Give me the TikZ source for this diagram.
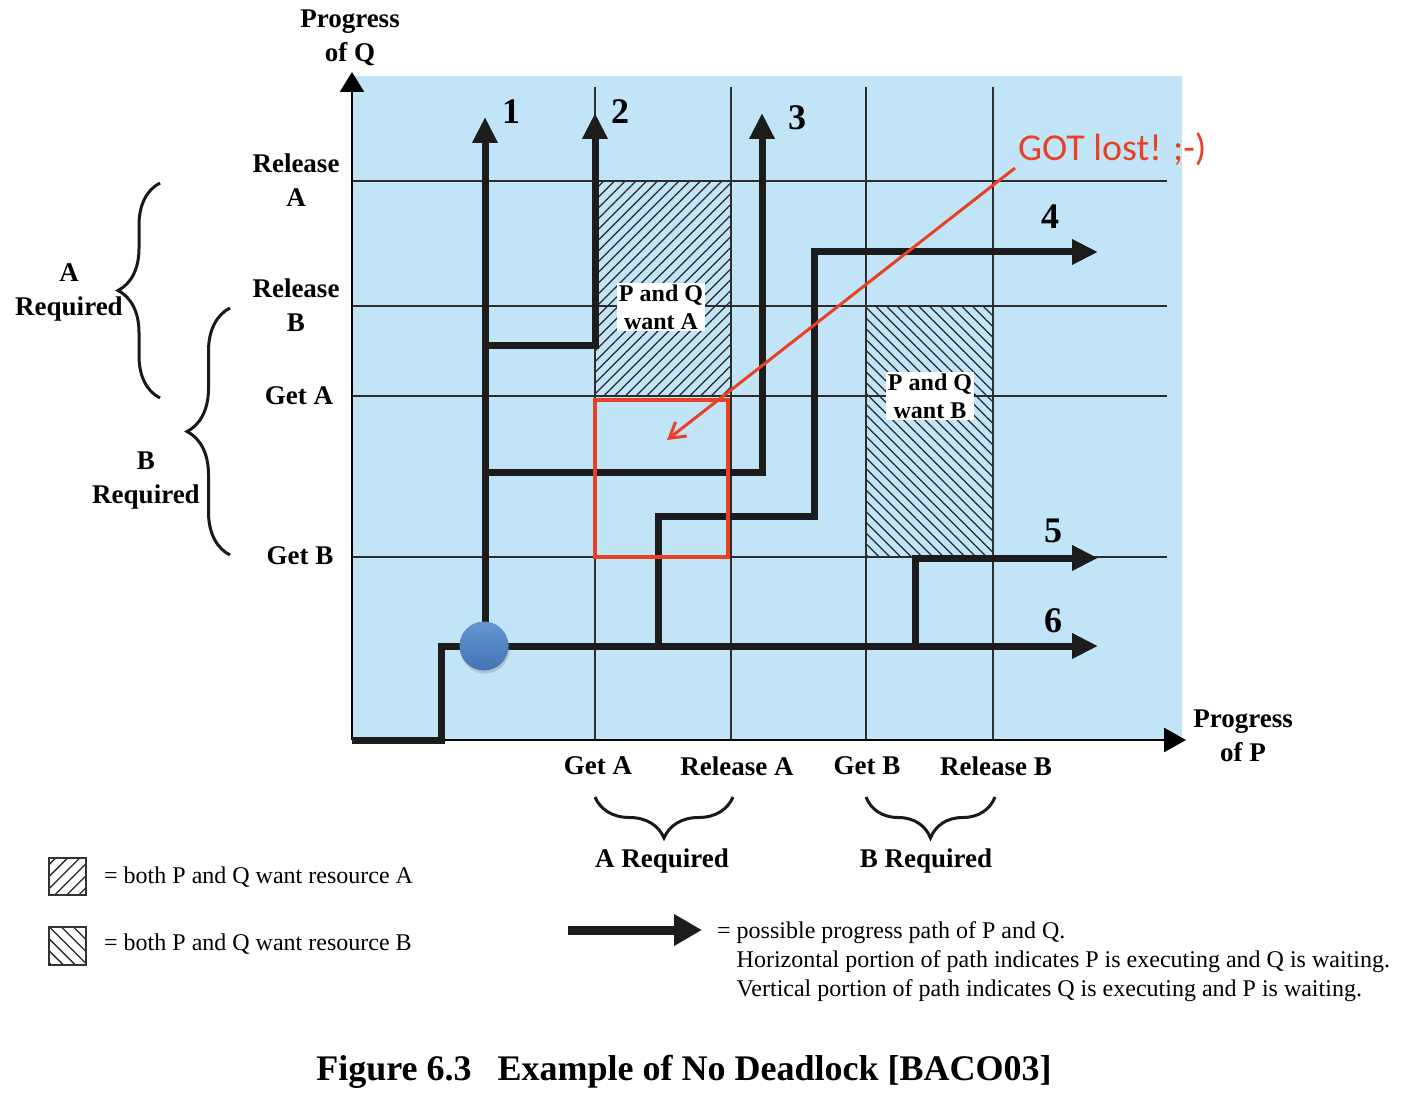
\documentclass[tikz,border=0pt]{standalone}
\usepackage{fontspec}
\setmainfont{Liberation Serif}
\newfontfamily\redfont{Carlito}
\usetikzlibrary{arrows.meta,patterns.meta,decorations.pathreplacing,shadows}
\definecolor{bgblue}{RGB}{193,228,247}
\definecolor{gridc}{RGB}{45,45,45}
\definecolor{redc}{RGB}{232,66,38}
\definecolor{pathc}{RGB}{28,28,28}
\definecolor{balltop}{RGB}{100,150,210}
\definecolor{ballbot}{RGB}{68,115,180}
\begin{document}
\begin{tikzpicture}[x=1pt,y=-1pt,
  lbl/.style={font=\bfseries\fontsize{27}{34}\selectfont, align=center, inner sep=0pt},
  num/.style={font=\bfseries\fontsize{36}{40}\selectfont, inner sep=0pt},
  want/.style={font=\bfseries\fontsize{24}{28}\selectfont, align=center, fill=white, inner sep=2pt},
  legtext/.style={font=\fontsize{24}{29}\selectfont, inner sep=0pt},
  gridline/.style={draw=gridc, line width=1.3pt},
  axisline/.style={draw=black, line width=2.6pt},
  ppath/.style={draw=pathc, line width=7pt},
  parrow/.style={ppath, -{Triangle[length=26pt,width=24pt]}},
  bracedraw/.style={draw=black!90, line width=3pt, decorate},
  hatchA/.style={pattern={Lines[angle=45,distance=7.6pt,line width=1.3pt]}, pattern color=black!85},
  hatchB/.style={pattern={Lines[angle=-45,distance=7.6pt,line width=1.3pt]}, pattern color=black!85},
]
\useasboundingbox (0,0) rectangle (1406,1118);

% background
\fill[bgblue] (352,76) rectangle (1182,740);

% hatched regions
\fill[hatchA] (595,181) rectangle (731,396);
\fill[hatchB] (866,306) rectangle (993,557);

% grid
\foreach \yy in {181,306,396,557} \draw[gridline] (352,\yy) -- (1167,\yy);
\foreach \xx in {595,731,866,993} \draw[gridline] (\xx,87) -- (\xx,740);

% axes
\coordinate (O) at (352,740);
\coordinate (ytip) at (352,72);
\coordinate (xtip) at (1186,740);
\draw[axisline, -{Triangle[length=20pt,width=24pt]}] (O) -- (ytip);
\draw[axisline, -{Triangle[length=22pt,width=24pt]}] (O) -- (xtip);

% region labels
\node[want] (wantA) at (661,307) {P and Q\\want A};
\node[want] (wantB) at (930,396) {P and Q\\want B};

% progress paths
\coordinate (s1) at (441,740);
\coordinate (s2) at (441,646);
\coordinate (e6) at (1098,646);
\draw[parrow] (O) -- (s1) -- (s2) -- (e6);

\coordinate (p1) at (485,646);
\coordinate (e1) at (485,117);
\draw[parrow] (p1) -- (e1);

\coordinate (b2) at (485,345);
\coordinate (c2) at (595,345);
\coordinate (e2) at (595,113);
\draw[parrow] (b2) -- (c2) -- (e2);

\coordinate (b3) at (485,472);
\coordinate (c3) at (762,472);
\coordinate (e3) at (762,113);
\draw[parrow] (b3) -- (c3) -- (e3);

\coordinate (b4) at (658,646);
\coordinate (c4a) at (658,516);
\coordinate (c4b) at (814,516);
\coordinate (c4c) at (814,252);
\coordinate (e4) at (1098,252);
\draw[parrow] (b4) -- (c4a) -- (c4b) -- (c4c) -- (e4);

\coordinate (b5) at (915,646);
\coordinate (c5) at (915,558);
\coordinate (e5) at (1098,558);
\draw[parrow] (b5) -- (c5) -- (e5);

% start ball
\node[circle, minimum size=49pt, inner sep=0pt, top color=balltop, bottom color=ballbot,
      drop shadow={shadow xshift=1pt, shadow yshift=-3pt, opacity=0.3}] (start) at (484,646) {};

% path numbers
\node[num] (n1) at (511,112) {1};
\node[num] (n2) at (620,112) {2};
\node[num] (n3) at (797,118) {3};
\node[num] (n4) at (1050,217) {4};
\node[num] (n5) at (1053,531) {5};
\node[num] (n6) at (1053,621) {6};

% red annotation
\draw[redc, line width=3.6pt] (595,400) rectangle (728,557);
\node[font=\redfont\fontsize{38}{40}\selectfont, text=redc, anchor=west, inner sep=0pt] (lost) at (1018,149) {GOT lost! ;-)};
\coordinate (rs) at (1015,168);
\coordinate (rt) at (667,440);
\draw[redc, line width=3pt, -{Straight Barb[length=15pt,width=18pt]}] (rs) -- (rt);

% axis labels
\node[lbl] (qlab) at (350,38) {Progress\\of Q};
\node[lbl] (plab) at (1243,736) {Progress\\of P};
\node[lbl] (relA) at (296,180) {Release\\A};
\node[lbl] (relB) at (296,305) {Release\\B};
\node[lbl] (getA) at (299,396) {Get A};
\node[lbl] (getB) at (300,556) {Get B};
\node[lbl] (areq) at (69,292) {A\\Required};
\node[lbl] (breq) at (146,481) {B\\Required};

\node[lbl] (bgetA) at (598,766) {Get A};
\node[lbl] (brelA) at (737,766) {Release A};
\node[lbl] (bgetB) at (867,766) {Get B};
\node[lbl] (brelB) at (996,766) {Release B};
\node[lbl] (bareq) at (662,861) {A Required};
\node[lbl] (bbreq) at (926,861) {B Required};

% braces
\coordinate (ba1) at (160,398);
\coordinate (ba2) at (160,183);
\draw[bracedraw, decoration={brace, amplitude=42pt}] (ba1) -- (ba2);
\coordinate (bb1) at (230,555);
\coordinate (bb2) at (230,308);
\draw[bracedraw, decoration={brace, amplitude=43pt}] (bb1) -- (bb2);
\coordinate (bx1) at (733,797);
\coordinate (bx2) at (595,797);
\draw[bracedraw, decoration={brace, amplitude=41pt}] (bx1) -- (bx2);
\coordinate (by1) at (995,797);
\coordinate (by2) at (866,797);
\draw[bracedraw, decoration={brace, amplitude=41pt}] (by1) -- (by2);

% legend
\draw[line width=1.6pt, draw=black!80, pattern={Lines[angle=45,distance=8.5pt,line width=1.3pt]}, pattern color=black!85] (49,858) rectangle (86,895);
\draw[line width=1.6pt, draw=black!80, pattern={Lines[angle=-45,distance=8.5pt,line width=1.3pt]}, pattern color=black!85] (49,927) rectangle (86,965);
\node[legtext, anchor=base west] (legA) at (104,883) {= both P and Q want resource A};
\node[legtext, anchor=base west] (legB) at (104,950) {= both P and Q want resource B};

\coordinate (la1) at (568,930);
\coordinate (la2) at (702,930);
\draw[draw=pathc, line width=9pt, -{Triangle[length=28pt,width=30pt]}] (la1) -- (la2);
\node[legtext, anchor=north west] (legP) at (717,918) {\begin{tabular}{@{}l@{ }l@{}}=&possible progress path of P and Q.\\
&Horizontal portion of path indicates P is executing and Q is waiting.\\
&Vertical portion of path indicates Q is executing and P is waiting.\end{tabular}};

% caption
\node[font=\bfseries\fontsize{36}{40}\selectfont, inner sep=0pt] (cap) at (684,1072) {Figure 6.3\hspace{26pt}Example of No Deadlock [BACO03]};
\end{tikzpicture}
\end{document}
